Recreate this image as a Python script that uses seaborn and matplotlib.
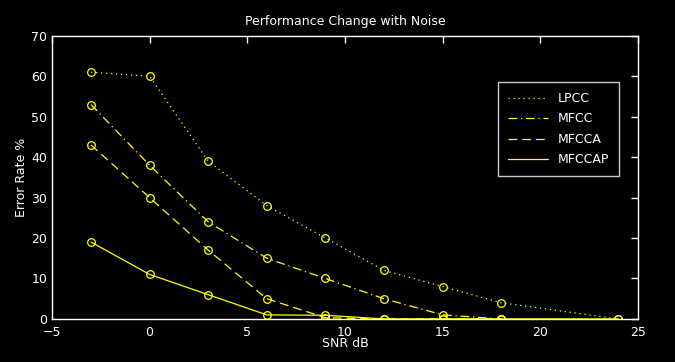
import matplotlib
matplotlib.use("Agg")
import matplotlib.pyplot as plt
import seaborn as sns
import pandas as pd

# SNR points (dB)
snr_lpcc = [-3, 0, 3, 6, 9, 12, 15, 18, 24]
snr_mfcc = [-3, 0, 3, 6, 9, 12, 15, 18]
snr_mfcca = [-3, 0, 3, 6, 9, 12, 15, 18]
snr_mfccap = [-3, 0, 3, 6, 9, 12, 15, 18, 24]

# error rates (%)
err_lpcc = [61, 60, 39, 28, 20, 12, 8, 4, 0]
err_mfcc = [53, 38, 24, 15, 10, 5, 1, 0]
err_mfcca = [43, 30, 17, 5, 0.3, 0, 0, 0]
err_mfccap = [19, 11, 6, 1, 0.9, 0, 0, 0, 0]

series = [
    ("LPCC", snr_lpcc, err_lpcc, (0, (1, 3))),
    ("MFCC", snr_mfcc, err_mfcc, (0, (7, 3, 1, 3))),
    ("MFCCA", snr_mfcca, err_mfcca, (0, (7, 4))),
    ("MFCCAP", snr_mfccap, err_mfccap, "-"),
]

sns.set_style("dark")
plt.rcParams["font.family"] = ["DejaVu Sans"]

YEL = "#ffff00"
fig = plt.figure(figsize=(6.75, 3.62), dpi=100, facecolor="black")
ax = fig.add_axes([0.077, 0.119, 0.868, 0.782])
ax.set_facecolor("black")

for name, x, y, ls in series:
    df = pd.DataFrame({"snr": x, "err": y})
    sns.lineplot(data=df, x="snr", y="err", ax=ax, color=YEL, lw=0.9,
                 linestyle=ls, marker="o", markersize=5.5,
                 markerfacecolor="none", markeredgecolor=YEL,
                 markeredgewidth=0.9, label=name)

ax.set_xlim(-5, 25)
ax.set_ylim(0, 70)
ax.set_xticks(range(-5, 26, 5))
ax.set_yticks(range(0, 71, 10))
ax.grid(False)
for s in ax.spines.values():
    s.set_visible(True)
    s.set_color("white")
    s.set_linewidth(1)
ax.tick_params(colors="white", direction="in", length=5, width=1,
               top=True, right=True, labelsize=9)
ax.tick_params(axis="x", pad=5)
ax.set_title("Performance Change with Noise", color="white", fontsize=9, pad=8)
ax.set_xlabel("SNR dB", color="white", fontsize=9, labelpad=-1)
ax.set_ylabel("Error Rate %", color="white", fontsize=9, labelpad=2)

leg = ax.legend(loc="upper right", bbox_to_anchor=(0.9676, 0.837),
                borderaxespad=0, frameon=True, fancybox=False,
                facecolor="black", edgecolor="white", fontsize=9,
                handlelength=3.2, labelspacing=0.6, borderpad=0.8)
leg.get_frame().set_linewidth(1)
for t in leg.get_texts():
    t.set_color("white")
for h in leg.get_lines():
    h.set_marker("")

plt.savefig("out.png", dpi=100, facecolor="black")
